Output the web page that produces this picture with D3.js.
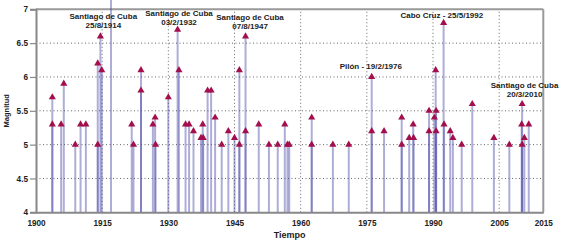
<!DOCTYPE html>
<html><head><meta charset="utf-8">
<script src="https://cdn.jsdelivr.net/npm/d3@7"></script>
<style>
html,body{margin:0;padding:0;background:#fff;}
svg{display:block;font-family:"Liberation Sans",Arial,sans-serif;}
</style></head>
<body><svg id="c" width="562" height="245"></svg>
<script>
const years = [1903.7,1903.7,1905.7,1906.3,1908.9,1910.1,1911.3,1914.0,1914.0,1914.6,1914.9,1917.0,
  1921.7,1922.1,1923.8,1923.8,1926.5,1927.0,1927.1,1930.0,1932.1,1932.4,1933.9,1934.7,1935.7,1937.4,
  1937.8,1937.9,1938.9,1939.7,1940.6,1942.1,1943.6,1945.0,1946.1,1946.1,1947.5,1947.5,1950.5,1952.8,
  1954.8,1956.4,1957.0,1957.4,1962.5,1962.5,1967.3,1970.9,1976.1,1976.1,1978.9,1982.9,1982.9,1984.6,
  1985.5,1985.6,1989.1,1989.1,1990.3,1990.6,1990.7,1990.7,1992.4,1992.5,1993.9,1994.5,1996.5,1998.9,
  2003.8,2007.3,2010.2,2010.1,2010.2,2010.7,2011.7];
const magnitudes = [5.7,5.3,5.3,5.9,5.0,5.3,5.3,5.0,6.2,6.6,6.1,7.4,
  5.3,5.0,6.1,5.8,5.3,5.4,5.0,5.7,6.7,6.1,5.3,5.3,5.2,5.1,
  5.3,5.1,5.8,5.8,5.4,5.0,5.2,5.1,5.0,6.1,5.2,6.6,5.3,5.0,
  5.0,5.3,5.0,5.0,5.4,5.0,5.0,5.0,6.0,5.2,5.2,5.4,5.0,5.1,
  5.3,5.1,5.5,5.2,5.4,6.1,5.5,5.2,6.8,5.3,5.2,5.1,5.0,5.6,
  5.1,5.0,5.6,5.3,5.0,5.1,5.3];
const xTicks = [1900,1915,1930,1945,1960,1975,1990,2005,2015];
const yTicks = [4,4.5,5,5.5,6,6.5,7];
const annoLines = [["Santiago de Cuba","25/8/1914"],["Santiago de Cuba","03/2/1932"],["Santiago de Cuba","07/8/1947"],
  ["Pilón - 19/2/1976"],["Cabo Cruz - 25/5/1992"],["Santiago de Cuba","20/3/2010"]];
const annoYear = [1915.26,1932.42,1948.52,1975.9,1992.0,2010.75];
const annoMag = [6.864,6.908,6.842,6.118,6.871,5.838];

const svg = d3.select("#c");
const x = d3.scaleLinear().domain([1900,2015]).range([36,543.3]);
const y = d3.scaleLinear().domain([4,7]).range([212.3,9.3]);

// grid
const grid = svg.append("g");
grid.selectAll("line.h").data(yTicks.filter(d=>d>4&&d<7)).join("line")
  .attr("x1",x(1900)).attr("x2",x(2015)).attr("y1",d=>y(d)).attr("y2",d=>y(d))
  .attr("stroke","#666").attr("stroke-width",1).attr("stroke-dasharray","1,2.5");
grid.selectAll("line.v").data(xTicks.filter(d=>d>1900&&d<2015)).join("line")
  .attr("x1",d=>x(d)).attr("x2",d=>x(d)).attr("y1",y(4)).attr("y2",y(7))
  .attr("stroke","#666").attr("stroke-width",1).attr("stroke-dasharray","1,2.5");

// frame top/right
svg.append("line").attr("x1",x(1900)).attr("x2",x(2015)).attr("y1",y(7)).attr("y2",y(7))
  .attr("stroke","#999").attr("stroke-width",2);
svg.append("line").attr("x1",x(2015)).attr("x2",x(2015)).attr("y1",y(7)).attr("y2",y(4))
  .attr("stroke","#999").attr("stroke-width",2);

const pts = years.map((yr,i)=>({yr, m:magnitudes[i]}));

// stems
svg.append("g").selectAll("line").data(pts).join("line")
  .attr("x1",d=>x(d.yr)).attr("x2",d=>x(d.yr)).attr("y1",y(4)).attr("y2",d=>y(d.m))
  .attr("stroke","#4a4aa8").attr("stroke-opacity",0.45).attr("stroke-width",2);

// axes
const ax = svg.append("g").attr("transform",`translate(0,${y(4)})`)
  .call(d3.axisBottom(x).tickValues(xTicks).tickFormat(d3.format("d")).tickSize(0).tickPadding(8));
const ay = svg.append("g").attr("transform",`translate(${x(1900)},0)`)
  .call(d3.axisLeft(y).tickValues(yTicks).tickFormat(d3.format("~g")).tickSize(6).tickPadding(2));
[ax,ay].forEach(a=>{
  a.select(".domain").attr("stroke","#888").attr("stroke-width",2);
  a.selectAll(".tick line").attr("stroke","#888").attr("stroke-width",1.2);
  a.selectAll(".tick text").attr("font-size",8.2).attr("font-weight","bold").attr("fill","#222")
    .attr("font-family","Liberation Sans, Arial, sans-serif");
});

// markers
svg.append("g").selectAll("path").data(pts).join("path")
  .attr("transform",d=>`translate(${x(d.yr)},${y(d.m)})`)
  .attr("d",d3.symbol(d3.symbolTriangle,22))
  .attr("fill","#a30f4b");

// annotations
const ag = svg.append("g").attr("font-size",8).attr("font-weight","bold").attr("fill","#222")
  .attr("text-anchor","middle");
annoLines.forEach((lines,i)=>{
  const t = ag.append("text").attr("x",x(annoYear[i])).attr("y",y(annoMag[i]));
  lines.forEach((l,j)=>t.append("tspan").attr("x",x(annoYear[i])).attr("dy",j?9.5:0).text(l));
});

// axis titles
svg.append("text").attr("x",(x(1900)+x(2015))/2).attr("y",238).attr("text-anchor","middle")
  .attr("font-size",9).attr("font-weight","bold").attr("fill","#222").text("Tiempo");
svg.append("text").attr("transform",`translate(9,${(y(4)+y(7))/2}) rotate(-90)`).attr("text-anchor","middle")
  .attr("font-size",7.5).attr("font-weight","bold").attr("fill","#222").text("Magnitud");
</script></body></html>
